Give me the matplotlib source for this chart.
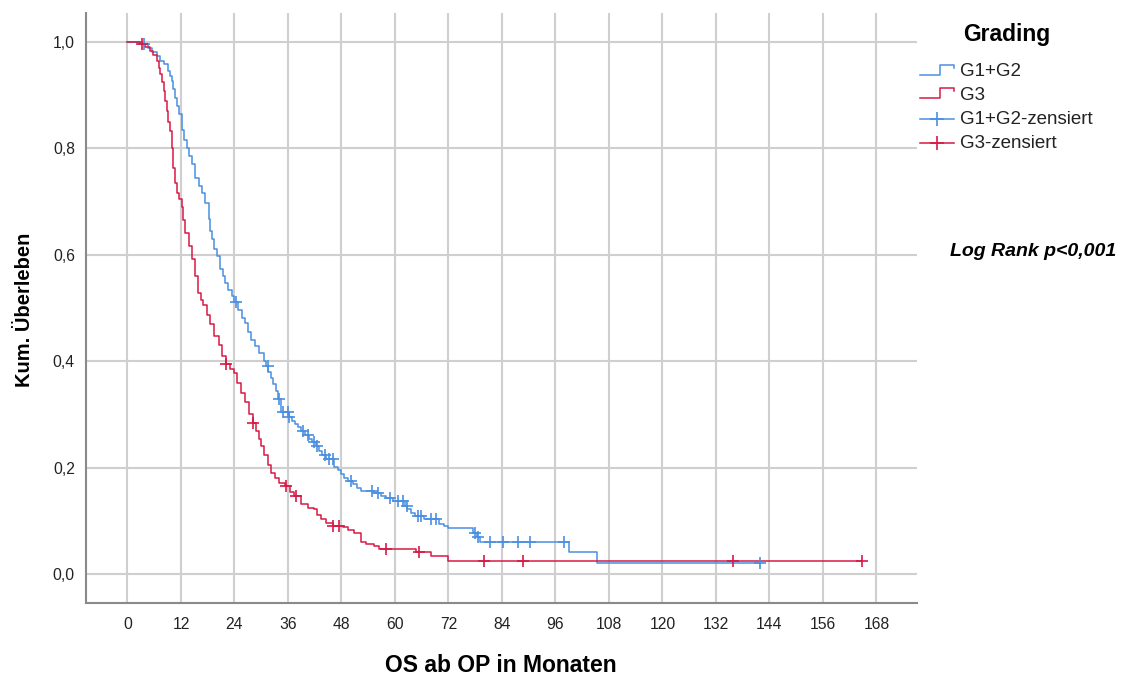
import numpy as np
import matplotlib
matplotlib.use("Agg")
import matplotlib.pyplot as plt
from matplotlib.lines import Line2D

plt.rcParams['font.family'] = ['Liberation Sans', 'DejaVu Sans']

# Kaplan-Meier estimates: event times (months) and survival after each step
g12_time = [0, 3.2, 4.7, 5.5, 6.6, 7.3, 8.1, 9.2, 9.6, 10.0, 10.3, 10.7, 11.1, 11.5,
            12.2, 12.7, 13.3, 13.7, 14.4, 15.2, 16.0, 16.7, 17.4, 18.2, 18.6, 18.9,
            19.5, 20.0, 20.8, 21.4, 21.9, 22.6, 23.4, 24.0, 24.8, 25.7, 26.3, 27.0,
            27.7, 28.5, 29.5, 30.7, 31.0, 31.6, 32.2, 32.7, 33.3, 33.8, 34.5, 36.2,
            36.8, 37.5, 38.2, 38.9, 39.8, 40.8, 41.3, 42.3, 43.0, 43.6, 44.5, 46.3,
            47.2, 47.9, 48.5, 49.5, 50.5, 51.5, 52.4, 55.3, 56.9, 58.0, 59.5, 62.2,
            62.8, 63.5, 64.5, 66.5, 69.8, 71.0, 71.8, 77.4, 78.3, 79.0, 99.1, 105.4]
g12_surv = [1.0, 0.996, 0.989, 0.981, 0.974, 0.965, 0.958, 0.945, 0.937, 0.927, 0.912,
            0.895, 0.880, 0.864, 0.835, 0.815, 0.801, 0.785, 0.770, 0.745, 0.730,
            0.717, 0.698, 0.667, 0.645, 0.629, 0.612, 0.598, 0.573, 0.560, 0.548,
            0.535, 0.523, 0.512, 0.497, 0.482, 0.473, 0.455, 0.440, 0.429, 0.415,
            0.401, 0.392, 0.380, 0.368, 0.358, 0.345, 0.330, 0.305, 0.295, 0.288,
            0.282, 0.276, 0.270, 0.262, 0.255, 0.248, 0.241, 0.232, 0.225, 0.216,
            0.202, 0.195, 0.188, 0.180, 0.176, 0.170, 0.163, 0.157, 0.152, 0.147,
            0.143, 0.138, 0.128, 0.122, 0.115, 0.110, 0.104, 0.095, 0.090, 0.086,
            0.078, 0.070, 0.061, 0.041, 0.022]
g12_cens = [3.6, 24.4, 31.5, 34.1, 34.8, 35.9, 36.3, 39.3, 40.4, 41.9, 42.6, 44.2,
            45.3, 46.0, 50.1, 54.8, 56.1, 58.8, 60.7, 61.8, 62.6, 65.2, 65.9, 68.1,
            69.3, 78.0, 78.6, 81.3, 84.3, 87.7, 90.4, 98.0, 141.9]

g3_time = [0, 2.85, 4.0, 5.1, 5.8, 6.6, 7.0, 7.3, 7.7, 8.1, 8.4, 8.8, 9.2, 9.6, 9.9,
           10.3, 10.7, 11.1, 11.6, 12.2, 12.5, 12.9, 13.7, 14.4, 15.2, 15.9, 16.5,
           17.0, 17.8, 18.5, 19.5, 20.5, 21.3, 22.0, 23.0, 24.0, 24.6, 25.5, 26.3,
           27.2, 28.1, 28.8, 29.4, 30.0, 30.7, 31.5, 32.2, 33.0, 34.1, 35.3, 36.5,
           37.4, 39.0, 40.5, 41.9, 42.6, 43.4, 44.5, 46.0, 48.3, 49.5, 50.9, 52.4,
           53.5, 55.3, 56.5, 64.8, 68.1, 71.8]
g3_surv = [1.0, 0.996, 0.990, 0.983, 0.975, 0.964, 0.952, 0.939, 0.924, 0.908, 0.890,
           0.870, 0.850, 0.833, 0.801, 0.764, 0.735, 0.717, 0.705, 0.690, 0.665,
           0.642, 0.617, 0.592, 0.560, 0.529, 0.515, 0.505, 0.488, 0.470, 0.448,
           0.430, 0.410, 0.395, 0.385, 0.379, 0.360, 0.340, 0.323, 0.302, 0.285,
           0.270, 0.255, 0.241, 0.225, 0.205, 0.191, 0.180, 0.172, 0.166, 0.155,
           0.147, 0.132, 0.125, 0.122, 0.112, 0.103, 0.097, 0.091, 0.088, 0.083,
           0.078, 0.060, 0.057, 0.053, 0.048, 0.041, 0.034, 0.024]
g3_cens = [3.3, 22.2, 28.1, 35.6, 37.8, 46.0, 47.5, 58.0, 65.4, 80.0, 88.8, 135.8, 164.8]

x_ticks = list(range(0, 169, 12))
y_ticks = [0.0, 0.2, 0.4, 0.6, 0.8, 1.0]
y_ticklabels = ["0,0", "0,2", "0,4", "0,6", "0,8", "1,0"]

BLUE = "#4a8fe0"
RED = "#d71a45"
GRID = "#cfcfcf"
SPINE = "#8a8a8a"

W, H = 1134, 675
fig = plt.figure(figsize=(W / 100, H / 100), dpi=100)


def fx(x):
    return x / W


def fy(y):
    return 1 - y / H


ax = fig.add_axes([fx(86), fy(603), fx(917) - fx(86), fy(13) - fy(603)])
ax.set_xlim(-9.3, 177.1)
ax.set_ylim(-0.054, 1.0545)


def km_curve(times, surv, cens, color):
    t = np.asarray(times, float)
    s = np.asarray(surv, float)
    c = np.asarray(cens, float)
    end = max(t.max(), c.max())
    tt = np.append(t, end)
    ss = np.append(s, s[-1])
    ax.plot(tt, ss, drawstyle="steps-post", color=color, lw=1.1, zorder=3)
    idx = np.searchsorted(t, c, side="right") - 1
    ax.plot(c, s[idx], ls="none", marker="+", ms=8, mew=1.2, color=color, zorder=4)


km_curve(g12_time, g12_surv, g12_cens, BLUE)
km_curve(g3_time, g3_surv, g3_cens, RED)

ax.set_xticks(x_ticks)
ax.set_xticklabels([str(v) for v in x_ticks])
ax.set_yticks(y_ticks)
ax.set_yticklabels(y_ticklabels)
ax.tick_params(length=0, labelsize=11.3, colors="#222222")
ax.tick_params(axis="x", pad=10)
ax.tick_params(axis="y", pad=8)
ax.grid(True, color=GRID, lw=1.5, zorder=0)
ax.set_axisbelow(True)
for side in ("top", "right"):
    ax.spines[side].set_visible(False)
for side in ("left", "bottom"):
    ax.spines[side].set_color(SPINE)
    ax.spines[side].set_linewidth(1.5)

fig.text(fx(25), fy(310), "Kum. Überleben", fontsize=14.5, fontweight="bold",
         rotation=90, ha="center", va="center")
fig.text(fx(501), fy(665), "OS ab OP in Monaten", fontsize=16.5, fontweight="bold",
         ha="center", va="center")

# Legend drawn in figure pixel coordinates
fig.text(fx(1007), fy(35), "Grading", fontsize=16.5, fontweight="bold",
         ha="center", va="center")


def step_handle(y_low, color):
    xs = [920, 940, 940, 954, 954]
    ys = [y_low, y_low, y_low - 10, y_low - 10, y_low - 7]
    fig.add_artist(Line2D([fx(v) for v in xs], [fy(v) for v in ys],
                          transform=fig.transFigure, color=color, lw=1.1))


def cens_handle(y, color):
    fig.add_artist(Line2D([fx(920), fx(954)], [fy(y), fy(y)],
                          transform=fig.transFigure, color=color, lw=1.1))
    fig.add_artist(Line2D([fx(937)], [fy(y)], transform=fig.transFigure,
                          color=color, marker="+", ms=10, mew=1.2, ls="none"))


step_handle(75, BLUE)
step_handle(98, RED)
cens_handle(119, BLUE)
cens_handle(143, RED)

entries = [(71, "G1+G2"), (95, "G3"), (119, "G1+G2-zensiert"), (143, "G3-zensiert")]
for y, label in entries:
    fig.text(fx(960), fy(y), label, fontsize=13.5, ha="left", va="center",
             color="#222222")

fig.text(fx(950), fy(252), "Log Rank p<0,001", fontsize=14, fontweight="bold",
         fontstyle="italic", ha="left", va="center")

fig.savefig("out.png", dpi=100)
